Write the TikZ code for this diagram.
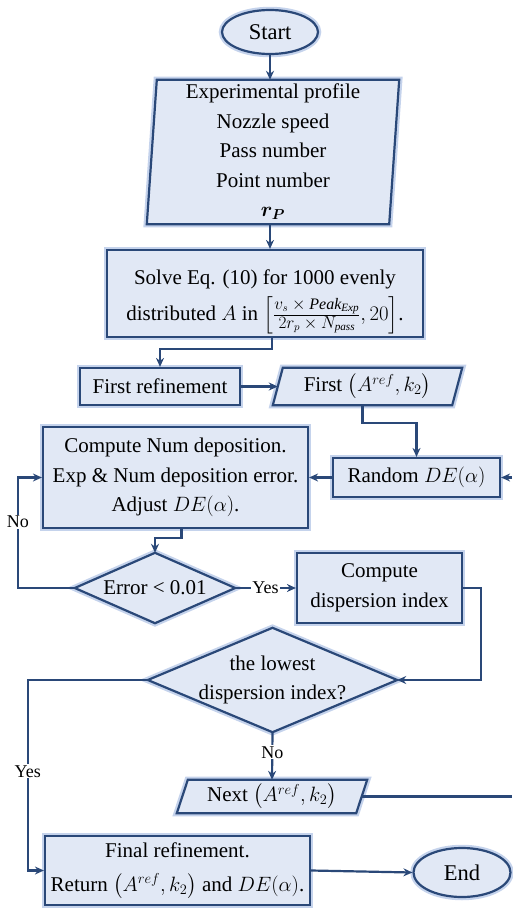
\documentclass[tikz,border=0pt]{standalone}
\usepackage{amsmath,bm}
\usepackage{fontspec}
\setmainfont{Liberation Serif}
\usetikzlibrary{shapes.geometric,arrows.meta,calc,backgrounds}
\definecolor{navy}{HTML}{2A4878}
\definecolor{boxfill}{HTML}{E1E8F5}
\definecolor{glow}{HTML}{C5D3EC}
\newcommand{\fr}[2]{\frac{\text{\fontsize{16}{16}\selectfont$#1$}}{\text{\fontsize{16}{16}\selectfont$#2$}}}
\begin{document}
\begin{tikzpicture}[x=1pt,y=-1pt,
  txt/.style={font=\fontsize{21}{29.5}\selectfont, align=center, inner sep=0pt},
  bigtxt/.style={font=\fontsize{22.5}{26}\selectfont, align=center, inner sep=0pt},
  shp/.style={draw=navy, line width=2.2pt, fill=boxfill, preaction={draw=glow, line width=6.5pt}},
  line/.style={draw=navy, line width=2.2pt},
  arr/.style={line, -{Stealth[length=9pt,width=8pt]}},
  lbl/.style={font=\fontsize{18}{20}\selectfont, fill=white, inner sep=1pt}]
\useasboundingbox (0,0) rectangle (512,908);

% nodes
\node[ellipse, bigtxt, shp, minimum width=96, minimum height=44] (start) at (270,32) {Start};
\node[txt, minimum width=252, minimum height=144] (para) at (273,152)
  {Experimental profile\\Nozzle speed\\Pass number\\Point number\\$\bm{r_P}$};
\node[txt, shp, minimum width=316, minimum height=87] (solve) at (265,293.5) {};
\node[txt] (solvetxt) at (265,302)
  {Solve Eq. (10) for 1000 evenly\\[6pt]distributed $A$ in $\left[\fr{v_s\times \mathit{Peak}_{\mathit{Exp}}}{2r_p\times N_{\mathit{pass}}},20\right]$.};
\node[txt, shp, minimum width=160, minimum height=37] (fr) at (160,386.5) {First refinement};
\node[txt, minimum width=189, minimum height=37] (first) at (367.5,386.5) {First $\bigl(A^{ref},k_2\bigr)$};
\node[txt, shp, minimum width=167, minimum height=39] (rand) at (416.5,477.5) {Random $DE(\alpha)$};
\node[txt, shp, minimum width=265, minimum height=101] (comp) at (175.5,477.5)
  {Compute Num deposition.\\Exp \& Num deposition error.\\Adjust $DE(\alpha)$.};
\node[txt, minimum width=160, minimum height=70] (err) at (155,588) {Error < 0.01};
\node[txt, shp, minimum width=165, minimum height=70] (disp) at (379.5,588) {Compute\\dispersion index};
\node[txt, minimum width=249, minimum height=104] (dia) at (272.5,680) {the lowest\\dispersion index?};
\node[txt, minimum width=190, minimum height=33] (next) at (272,796.5) {Next $\bigl(A^{ref},k_2\bigr)$};
\node[txt, shp, minimum width=265, minimum height=69] (final) at (177.5,870.5)
  {Final refinement.\\[5pt]Return $\bigl(A^{ref},k_2\bigr)$ and $DE(\alpha)$.};
\node[ellipse, bigtxt, shp, minimum width=97, minimum height=49] (end) at (462,872.5) {End};

\coordinate (rin) at (512,477.5);
\coordinate (nout) at (512,796.5);

% slanted and diamond outlines
\begin{scope}[on background layer]
\path[shp] ([xshift=10]para.north west) -- (para.north east) -- ([xshift=-10]para.south east) -- (para.south west) -- cycle;
\path[shp] ([xshift=10]first.north west) -- (first.north east) -- ([xshift=-10]first.south east) -- (first.south west) -- cycle;
\path[shp] ([xshift=11]next.north west) -- (next.north east) -- ([xshift=-11]next.south east) -- (next.south west) -- cycle;
\path[shp] (err.north) -- (err.east) -- (err.south) -- (err.west) -- cycle;
\path[shp] (dia.north) -- (dia.east) -- (dia.south) -- (dia.west) -- cycle;
\end{scope}

% connectors
\draw[arr] (start.south) -- (start.south |- para.north);
\draw[arr] (para.south -| start.south) -- (solve.north -| start.south);
\draw[arr] ([xshift=7]solve.south) -- ++(0,11) -| (fr.north);
\draw[arr] (fr.east) -- ([xshift=5]first.west);
\draw[arr] ([xshift=-5]first.south) -- ++(0,18) -| (rand.north);
\draw[arr] (rin) -- (rand.east);
\draw[arr] (rand.west) -- (comp.east);
\draw[arr] ([xshift=6]comp.south) -- ++(0,9) -| (err.north);
\draw[arr] (err.west) -- ++(-57,0) coordinate (nA) -- node[lbl,pos=0.6]{No} (nA |- comp.west) -- (comp.west);
\draw[arr] (err.east) -- node[lbl]{Yes} (disp.west);
\draw[arr] (disp.east) -- ++(18,0) |- (dia.east);
\draw[arr] (dia.south) -- node[lbl,pos=0.42]{No} (next.north);
\draw[arr] (dia.west) -- ++(-120,0) coordinate (yA) -- node[lbl,pos=0.48]{Yes} (yA |- final.west) -- (final.west);
\draw[line] ([xshift=-6]next.east) -- (nout);
\draw[arr] (final.east) -- (end.west);
\end{tikzpicture}
\end{document}
